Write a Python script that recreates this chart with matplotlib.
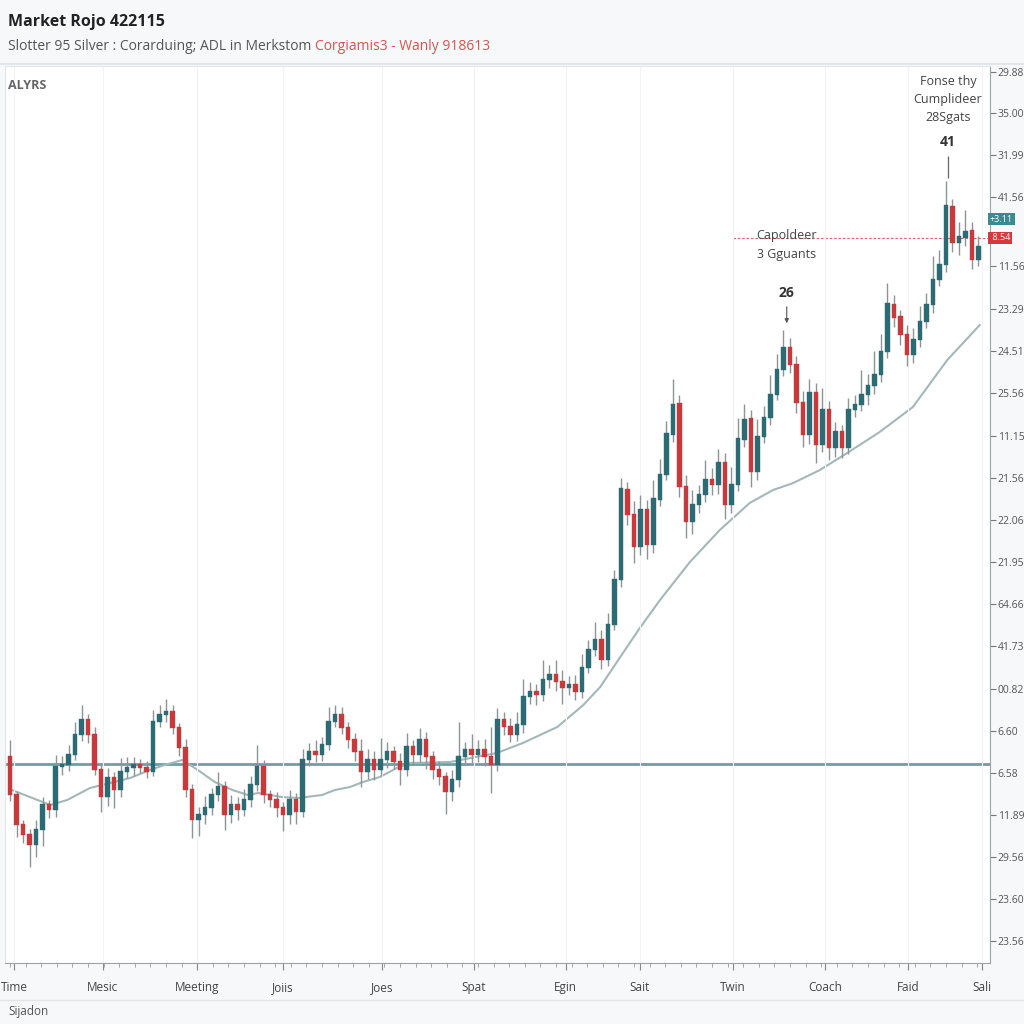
import matplotlib

matplotlib.use("Agg")
import matplotlib.pyplot as plt
import numpy as np

plt.rcParams["font.family"] = ["Open Sans", "DejaVu Sans"]

# ---------------------------------------------------------------------------
# Data (price units)
# ---------------------------------------------------------------------------
first_open = 20.5
closes = [
    16.7, 13.7, 12.7, 11.7, 13.2, 15.7, 15.2, 19.5, 19.7, 20.7,
    22.7, 24.2, 22.7, 19.2, 16.5, 18.4, 17.2, 19.0, 19.4, 19.7,
    19.4, 19.0, 24.0, 24.7, 25.0, 23.4, 21.4, 17.2, 14.2, 14.7,
    15.4, 16.7, 17.5, 14.7, 15.7, 15.2, 16.2, 17.7, 19.5, 16.7,
    16.2, 15.4, 14.7, 16.2, 15.0, 20.2, 21.0, 20.7, 21.7, 24.0,
    24.7, 23.4, 22.2, 21.0, 19.0, 20.2, 19.2, 20.2, 21.0, 20.0,
    19.2, 21.5, 20.7, 22.2, 20.5, 19.2, 18.5, 17.0, 18.2, 20.5,
    21.2, 20.7, 21.2, 20.5, 19.7, 24.2, 23.5, 22.7, 23.7, 26.5,
    27.0, 26.7, 28.2, 28.7, 28.0, 27.4, 27.7, 27.0, 29.4, 31.2,
    32.2, 30.2, 33.7, 38.2, 47.2, 44.7, 41.5, 45.2, 41.7, 46.2,
    48.7, 52.7, 55.7, 47.5, 44.0, 45.7, 46.7, 48.2, 47.7, 49.9,
    45.7, 47.7, 52.2, 54.2, 49.0, 52.5, 54.4, 56.7, 59.2, 61.4,
    59.7, 55.9, 52.7, 56.9, 51.7, 55.2, 51.4, 53.0, 51.4, 55.2,
    55.7, 56.7, 57.6, 58.7, 61.0, 65.7, 64.4, 62.7, 60.7, 62.2,
    64.0, 65.7, 68.2, 69.7, 75.5, 71.9, 72.4, 73.0, 70.2, 71.4,
]
wick_up = [
    1.7, 0.4, 0.5, 0.6, 1.0, 0.8, 0.5, 1.2, 0.9, 1.0,
    1.3, 1.5, 0.6, 0.8, 0.5, 1.0, 0.6, 1.4, 1.1, 0.8,
    0.6, 0.7, 1.2, 1.0, 1.3, 0.7, 0.5, 0.9, 0.6, 0.8,
    1.2, 0.7, 1.5, 0.6, 1.0, 0.8, 1.1, 0.9, 2.2, 0.7,
    0.5, 0.8, 0.6, 1.0, 0.7, 1.1, 0.9, 1.2, 0.8, 1.5,
    1.0, 0.8, 0.6, 0.7, 1.3, 1.1, 0.9, 2.2, 1.0, 0.6,
    0.9, 1.4, 0.7, 1.2, 0.8, 0.6, 0.9, 0.5, 1.0, 3.5,
    0.8, 1.6, 1.0, 1.1, 3.0, 1.2, 0.8, 0.9, 1.3, 1.8,
    1.0, 0.8, 2.0, 1.0, 1.5, 1.2, 0.9, 1.0, 1.4, 1.0,
    1.8, 1.0, 1.2, 1.0, 1.2, 0.8, 1.4, 1.5, 1.0, 2.0,
    1.6, 1.4, 2.6, 1.0, 1.2, 1.5, 1.0, 2.0, 1.2, 1.4,
    1.0, 1.8, 2.2, 1.6, 1.0, 1.8, 1.2, 2.0, 1.6, 1.8,
    1.0, 0.9, 1.2, 1.4, 1.0, 2.2, 0.9, 1.0, 0.7, 1.2,
    1.0, 2.5, 1.2, 2.4, 1.8, 2.2, 1.0, 0.8, 1.0, 1.2,
    1.6, 1.2, 2.4, 1.5, 2.6, 0.8, 1.6, 2.2, 1.0, 1.2,
]
wick_dn = [
    0.6, 1.2, 0.8, 2.2, 1.2, 1.6, 0.8, 0.7, 0.8, 0.6,
    0.5, 0.6, 0.8, 0.5, 1.5, 0.9, 1.8, 0.7, 0.6, 0.8,
    0.5, 0.6, 0.4, 0.5, 0.7, 0.6, 0.8, 0.7, 1.8, 1.6,
    0.9, 0.7, 0.6, 1.5, 0.8, 1.0, 0.6, 0.7, 0.6, 0.8,
    0.7, 0.9, 1.6, 0.9, 1.2, 0.5, 0.6, 0.7, 0.6, 0.5,
    0.5, 0.6, 0.8, 0.9, 1.5, 0.7, 1.0, 0.6, 0.8, 0.7,
    1.5, 0.6, 1.0, 0.7, 1.2, 0.9, 0.8, 2.2, 0.9, 0.7,
    0.6, 0.8, 0.7, 0.9, 2.8, 0.6, 0.8, 0.7, 0.6, 0.8,
    0.7, 1.0, 0.6, 0.8, 0.9, 1.6, 0.7, 0.8, 0.6, 0.5,
    0.6, 0.9, 0.6, 0.5, 0.7, 1.0, 1.6, 0.8, 1.4, 0.8,
    0.6, 0.5, 0.7, 1.0, 1.6, 1.2, 0.8, 0.7, 1.0, 0.9,
    1.4, 0.8, 0.6, 0.7, 1.5, 0.8, 0.6, 0.7, 0.5, 0.6,
    0.8, 1.0, 1.2, 0.9, 1.8, 0.7, 1.2, 0.9, 1.0, 0.6,
    0.7, 0.6, 1.0, 0.8, 0.7, 0.6, 0.9, 1.0, 1.1, 0.8,
    0.7, 0.6, 0.8, 0.6, 0.7, 0.9, 1.2, 0.8, 0.9, 0.6,
]

# moving average, sampled at candle positions
ma_idx = [0.3, 6.2, 8.8, 12.3, 18.5, 21.5, 23.8, 26.5, 28.9, 31.5, 34.2, 36.6,
          38.2, 41.8, 44.3, 48.0, 50.0, 52.3, 54.3, 56.9, 59.5, 61.5, 67.7, 74.9,
          78.9, 84.2, 88.2, 90.8, 94.3, 96.9, 100.0, 104.6, 109.2, 113.8, 117.4,
          120.5, 124.6, 128.8, 133.8, 138.9, 144.2, 149.2]
ma_val = [17.2, 15.7, 16.2, 17.4, 18.4, 19.2, 19.7, 20.2, 19.2, 18.0, 17.2, 16.7,
          16.9, 16.5, 16.4, 16.7, 17.2, 17.5, 18.0, 18.5, 19.4, 19.9, 20.0, 20.9,
          21.9, 23.5, 25.7, 27.5, 30.9, 33.4, 36.2, 40.0, 43.2, 45.9, 47.2,
          47.9, 49.2, 50.9, 53.0, 55.5, 60.2, 63.7]

support_level = 19.8
resist_level = 72.4
resist_start = 111.2
badge_up_level = 74.3

# y-axis tick labels as printed on the chart
ytick_pos = [89.0, 84.9, 80.7, 76.5, 69.6, 65.3, 61.1, 56.9, 52.6, 48.4, 44.2,
             40.0, 35.8, 31.6, 27.3, 23.1, 18.9, 14.7, 10.5, 6.3, 2.1]
ytick_labels = ["29.88", "35.00", "31.99", "41.56", "11.56", "23.29", "24.51",
                "25.56", "11.15", "21.56", "22.06", "21.95", "64.66", "41.73",
                "00.82", "6.60", "6.58", "11.89", "29.56", "23.60", "23.56"]

xtick_pos = [0.6, 14.3, 28.8, 42.0, 57.2, 71.4, 85.5, 96.9, 111.2, 125.4, 138.2, 149.5]
xtick_labels = ["Time", "Mesic", "Meeting", "Joiis", "Joes", "Spat", "Egin",
                "Sait", "Twin", "Coach", "Faid", "Sali"]

TEAL = "#2c6b74"
RED = "#c8393b"
WICK = "#8c9496"

# ---------------------------------------------------------------------------
# Figure
# ---------------------------------------------------------------------------
fig = plt.figure(figsize=(10.24, 10.24), dpi=100, facecolor="#f7f8f9")
ax = fig.add_axes([5 / 1024, 61 / 1024, 985 / 1024, 897 / 1024])
ax.set_facecolor("white")

c = np.array(closes)
o = np.concatenate([[first_open], c[:-1]])
idx = np.arange(len(c))
hi = np.maximum(o, c) + np.array(wick_up)
lo = np.minimum(o, c) - np.array(wick_dn)
up = c >= o
colors = np.where(up, TEAL, RED)

ax.vlines(idx, lo, hi, color=WICK, linewidth=1.0, zorder=2)
ax.bar(idx, np.abs(c - o) + 0.15, bottom=np.minimum(o, c), width=0.72,
       color=colors, edgecolor=colors, linewidth=0.3, zorder=3)

ax.axhline(support_level, color="#6d9fa6", linewidth=2.0, zorder=1)
ax.plot(ma_idx, ma_val, color="#a3b8b9", linewidth=1.5, zorder=1.5)
ax.hlines(resist_level, resist_start, 151, color="#d46a6a", linewidth=0.9,
          linestyles=(0, (2, 1.5)), zorder=1)

ax.set_xlim(-0.77, 150.77)
ax.set_ylim(-0.1, 89.6)

ax.yaxis.tick_right()
ax.set_yticks(ytick_pos)
ax.set_yticklabels(ytick_labels)
ax.tick_params(axis="y", length=4, colors="#777", labelcolor="#555",
               labelsize=7.5, pad=1.5)
ax.set_xticks(xtick_pos)
ax.set_xticklabels(xtick_labels)
ax.set_xticks(np.arange(0, 151, 2.4), minor=True)
ax.tick_params(axis="x", length=5, colors="#888", labelcolor="#444",
               labelsize=8.5, pad=8)
ax.tick_params(axis="x", which="minor", length=3, colors="#999")
ax.grid(axis="x", color="#f1f3f4", linewidth=0.8)
for side in ("left", "top"):
    ax.spines[side].set_color("#e4e7e8")
for side in ("right", "bottom"):
    ax.spines[side].set_color("#9aa3a5")

# price badges on the right axis
ax.text(1.0, badge_up_level, "+3.11", transform=ax.get_yaxis_transform(),
        fontsize=6.5, color="white", va="center", ha="left",
        bbox=dict(boxstyle="square,pad=0.2", fc="#3b8a92", ec="none"))
ax.text(1.0, resist_level, " 8.54", transform=ax.get_yaxis_transform(),
        fontsize=6.5, color="white", va="center", ha="left",
        bbox=dict(boxstyle="square,pad=0.2", fc="#d8383c", ec="none"))

# annotations
ax.text(119.5, 71.7, "Capoldeer\n3 Gguants", ha="center", va="center",
        fontsize=9, color="#444", linespacing=1.6)
ax.text(119.5, 66.9, "26", ha="center", va="center", fontsize=10,
        fontweight="bold", color="#333")
ax.annotate("", xy=(119.5, 63.6), xytext=(119.5, 65.8),
            arrowprops=dict(arrowstyle="-|>", color="#555", lw=0.8,
                            mutation_scale=6))
ax.text(144.3, 86.3, "Fonse thy\nCumplideer\n28Sgats", ha="center", va="center",
        fontsize=9, color="#444", linespacing=1.5)
ax.text(144.3, 82.0, "41", ha="center", va="center", fontsize=10,
        fontweight="bold", color="#333")
ax.vlines(144.3, 78.4, 80.6, color="#666", linewidth=0.9)

ax.text(0.003, 0.985, "ALYRS", transform=ax.transAxes, fontsize=9,
        fontweight="bold", color="#666", va="top")

# header / footer
fig.add_artist(plt.Line2D([0, 1], [1 - 64 / 1024] * 2, color="#dfe3e5", lw=1.2))
fig.text(8 / 1024, 1 - 22 / 1024, "Market Rojo 422115", fontsize=11.5,
         fontweight="bold", color="#222", va="center")
sub = fig.text(8 / 1024, 1 - 47 / 1024,
               "Slotter 95 Silver : Corarduing; ADL in Merkstom ",
               fontsize=10, color="#555", va="center")
fig.canvas.draw()
bb = sub.get_window_extent()
fig.text(bb.x1 / 1024, 1 - 47 / 1024, "Corgiamis3 - Wanly 918613",
         fontsize=10, color="#d9534f", va="center")
fig.add_artist(plt.Line2D([0, 1], [1 - 1000 / 1024] * 2, color="#e3e6e8", lw=1.0))
fig.text(8 / 1024, 1 - 1012 / 1024, "Sijadon", fontsize=8.5, color="#555",
         va="center")

fig.savefig("out.png", dpi=100, facecolor=fig.get_facecolor())
